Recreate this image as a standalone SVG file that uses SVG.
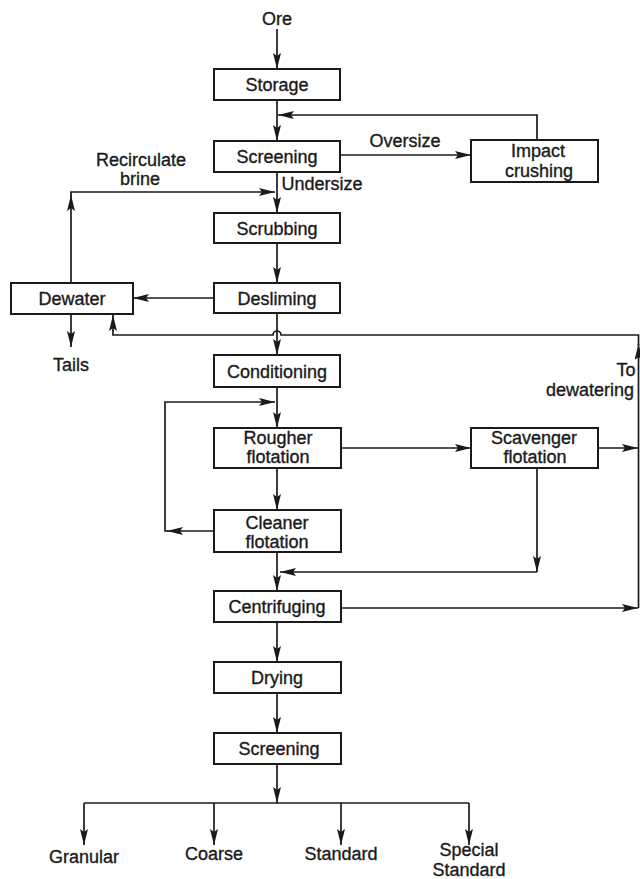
<svg xmlns="http://www.w3.org/2000/svg" width="640" height="879" viewBox="0 0 640 879">
<style>
  .box { fill: #fff; stroke: #1a1a1a; stroke-width: 2; }
  .t { font-family: "Liberation Sans", Arial, sans-serif; font-size: 18px; fill: #1a1a1a; stroke: #1a1a1a; stroke-width: 0.35px; text-anchor: middle; }
  .c { fill: none; stroke: #1a1a1a; stroke-width: 1.7; }
  .a { marker-end: url(#arr); }
</style>
<defs>
  <marker id="arr" markerUnits="userSpaceOnUse" markerWidth="17" markerHeight="9" refX="16" refY="4" orient="auto">
    <path d="M0,0 L16,4 L0,8 L3,4 z" fill="#1a1a1a"/>
  </marker>
</defs>
<rect width="640" height="879" fill="#fff"/>

<g id="connectors">
  <path class="c a" d="M277,29 V69"/>
  <path class="c a" d="M277,100 V141"/>
  <path class="c a" d="M340,155 H471"/>
  <path class="c a" d="M537,140 V115 H278"/>
  <path class="c a" d="M277,172 V213"/>
  <path class="c a" d="M71,283 V195"/>
  <path class="c a" d="M71,196 V192 H275"/>
  <path class="c a" d="M277,243 V283"/>
  <path class="c a" d="M214,298 H133"/>
  <path class="c a" d="M71,314 V347"/>
  <path class="c a" d="M277,313 V355"/>
  <path class="c a" d="M638.5,608 V344"/>
  <path class="c" d="M638.5,345 V335 H281 A4,4 0 0 0 273,335 H113 V330"/>
  <path class="c a" d="M113,331 V315"/>
  <path class="c a" d="M277,387 V428"/>
  <path class="c a" d="M214,531 H167"/>
  <path class="c a" d="M168,531 H165 V402 H275"/>
  <path class="c a" d="M341,448 H471"/>
  <path class="c a" d="M598,448 H638"/>
  <path class="c a" d="M277,468 V510"/>
  <path class="c a" d="M537,468 V572"/>
  <path class="c a" d="M537,572 H280"/>
  <path class="c a" d="M277,552 V591"/>
  <path class="c a" d="M341,608 H638"/>
  <path class="c a" d="M277,622 V662"/>
  <path class="c a" d="M277,693 V733"/>
  <path class="c a" d="M277,764 V803"/>
  <path class="c" d="M84,803 H469"/>
  <path class="c a" d="M84,803 V845"/>
  <path class="c a" d="M214,803 V845"/>
  <path class="c a" d="M341,803 V845"/>
  <path class="c a" d="M469,803 V845"/>
</g>

<g id="ore"><text class="t" x="277" y="25">Ore</text></g>
<g id="storage"><rect class="box" x="214" y="69" width="126" height="31"/><text class="t" x="277" y="91">Storage</text></g>
<g id="screening1"><rect class="box" x="214" y="141" width="126" height="31"/><text class="t" x="277" y="163">Screening</text></g>
<g id="impact"><rect class="box" x="471" y="140" width="127" height="42"/><text class="t" x="538" y="157">Impact</text><text class="t" x="539" y="176.5">crushing</text></g>
<g id="oversize"><text class="t" x="405" y="147">Oversize</text></g>
<g id="undersize"><text class="t" x="322" y="190">Undersize</text></g>
<g id="recirculate"><text class="t" x="141" y="166">Recirculate</text><text class="t" x="140" y="185">brine</text></g>
<g id="scrubbing"><rect class="box" x="214" y="213" width="126" height="30"/><text class="t" x="277" y="234.5">Scrubbing</text></g>
<g id="desliming"><rect class="box" x="214" y="283" width="126" height="30"/><text class="t" x="277" y="304.5">Desliming</text></g>
<g id="dewater"><rect class="box" x="11" y="283" width="122" height="31"/><text class="t" x="72" y="305">Dewater</text></g>
<g id="tails"><text class="t" x="71" y="371">Tails</text></g>
<g id="conditioning"><rect class="box" x="214" y="355" width="126" height="32"/><text class="t" x="277" y="377.5">Conditioning</text></g>
<g id="todewatering"><text class="t" x="626" y="376">To</text><text class="t" x="590" y="395.5">dewatering</text></g>
<g id="rougher"><rect class="box" x="214" y="428" width="127" height="40"/><text class="t" x="278" y="444">Rougher</text><text class="t" x="278" y="463">flotation</text></g>
<g id="scavenger"><rect class="box" x="471" y="428" width="127" height="40"/><text class="t" x="534" y="444">Scavenger</text><text class="t" x="535" y="463">flotation</text></g>
<g id="cleaner"><rect class="box" x="214" y="510" width="127" height="42"/><text class="t" x="277" y="528.5">Cleaner</text><text class="t" x="277" y="547.5">flotation</text></g>
<g id="centrifuging"><rect class="box" x="214" y="591" width="127" height="31"/><text class="t" x="277" y="613">Centrifuging</text></g>
<g id="drying"><rect class="box" x="214" y="662" width="127" height="31"/><text class="t" x="277" y="684">Drying</text></g>
<g id="screening2"><rect class="box" x="214" y="733" width="127" height="31"/><text class="t" x="279" y="755">Screening</text></g>
<g id="granular"><text class="t" x="84" y="863">Granular</text></g>
<g id="coarse"><text class="t" x="214" y="860">Coarse</text></g>
<g id="standard"><text class="t" x="341" y="860">Standard</text></g>
<g id="special"><text class="t" x="469" y="855.5">Special</text><text class="t" x="469" y="876">Standard</text></g>
</svg>
